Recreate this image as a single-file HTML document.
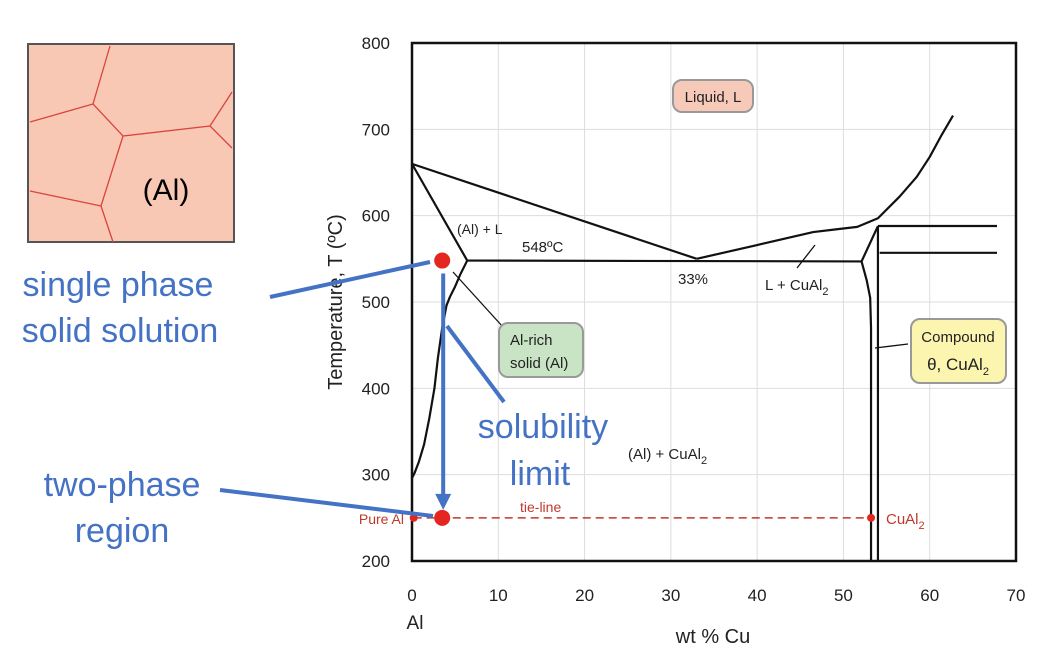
<!DOCTYPE html>
<html><head><meta charset="utf-8"><style>
body{margin:0;background:#fff;}
svg{display:block;font-family:"Liberation Sans",sans-serif;}
</style></head><body>
<svg id="chart" width="1046" height="666" viewBox="0 0 1046 666">
<g>
<rect x="28" y="44" width="206" height="198" fill="#f9c8b5" stroke="#555" stroke-width="2"/>
<g stroke="#d9453b" stroke-width="1.3" fill="none">
<path d="M110,46 L93,104 L123,136 L210,126 L232,92"/>
<path d="M30,122 L93,104"/><path d="M210,126 L232,148"/>
<path d="M123,136 L101,206 L113,242"/><path d="M30,191 L101,206"/>
</g>
<text x="166" y="200" font-size="30" text-anchor="middle">(Al)</text>
</g>
<g id="plot"></g>
<g id="annot">
<text x="118" y="296" font-size="34" fill="#4472c4" text-anchor="middle">single phase</text>
<text x="120" y="342" font-size="34" fill="#4472c4" text-anchor="middle">solid solution</text>
<text x="543" y="438" font-size="34" fill="#4472c4" text-anchor="middle">solubility</text>
<text x="540" y="485" font-size="34" fill="#4472c4" text-anchor="middle">limit</text>
<text x="122" y="496" font-size="34" fill="#4472c4" text-anchor="middle">two-phase</text>
<text x="122" y="542" font-size="34" fill="#4472c4" text-anchor="middle">region</text>
</g>
</svg>
<script>
const xTicks=[0,10,20,30,40,50,60,70];
const yTicks=[200,300,400,500,600,700,800];
const liquidusLeft=[[0,660],[33,550]];
const solidus=[[0,660],[6.4,548]];
const solvusX=[6.4,5.6,5.0,4.4,4.0,3.5,3.0,2.6,2.0,1.4,0.8,0.3,0];
const solvusT=[548,532,518,506,496,470,435,400,365,335,315,302,296];
const eutectic=[[6.4,548],[52.1,547]];
const liquidusRightX=[33,40,46.5,49,51.6,54,56.5,58.5,60,61.3,62.7];
const liquidusRightT=[550,566,581,584,587,597,622,645,668,692,716];
const peritectic=[[54,588],[67.8,588]];
const lowerLine=[[54.2,557],[67.8,557]];
const thetaLeftX=[54,52.1,52.7,53.1,53.2,53.2];
const thetaLeftT=[588,547,525,505,470,200];
const thetaRight=[[54,588],[54,200]];
const tieT=250, pureX=0.2, cuAl2X=53.2, alloyX=3.5, alloyT=548, alloyT2=250;

const X=v=>412+v*(1016-412)/70;
const Y=t=>561-(t-200)*(561-43)/600;
const NS='http://www.w3.org/2000/svg';
const plot=document.getElementById('plot');
function mk(tag,attrs,parent){const e=document.createElementNS(NS,tag);for(const k in attrs)e.setAttribute(k,attrs[k]);(parent||plot).appendChild(e);return e;}
function line(pts,name,w){const e=mk('polyline',{points:pts.map(p=>X(p[0])+','+Y(p[1])).join(' '),fill:'none',stroke:'#111','stroke-width':w||2.2,'stroke-linejoin':'round'});

return e;}
xTicks.forEach(v=>{const g=mk('line',{x1:X(v),x2:X(v),y1:Y(800),y2:Y(200),stroke:'#ddd','stroke-width':1});


const t=mk('text',{x:X(v),y:601,'font-size':17,'text-anchor':'middle',fill:'#222'});t.textContent=v;

});
yTicks.forEach(v=>{const g=mk('line',{x1:X(0),x2:X(70),y1:Y(v),y2:Y(v),stroke:'#ddd','stroke-width':1});


const t=mk('text',{x:390,y:Y(v)+6,'font-size':17,'text-anchor':'end',fill:'#222'});t.textContent=v;

});
const fr=mk('rect',{x:X(0),y:Y(800),width:X(70)-X(0),height:Y(200)-Y(800),fill:'none',stroke:'#111','stroke-width':2.5});


line(liquidusLeft,'liquidus-left');
line(solidus,'solidus');
line(solvusX.map((x,i)=>[x,solvusT[i]]),'solvus');
line(eutectic,'eutectic-line');
line(liquidusRightX.map((x,i)=>[x,liquidusRightT[i]]),'liquidus-right');
line(peritectic,'peritectic-line');
line(lowerLine,'lower-line');
line(thetaLeftX.map((x,i)=>[x,thetaLeftT[i]]),'theta-left-boundary');
line(thetaRight,'theta-right-boundary');
[[797,268,815,245],[875,348,908,344],[453,272,503,327]].forEach(a=>{const l=mk('line',{x1:a[0],y1:a[1],x2:a[2],y2:a[3],stroke:'#111','stroke-width':1.3});

});
const tl=mk('line',{x1:X(pureX),x2:X(cuAl2X),y1:Y(tieT),y2:Y(tieT),stroke:'#c0392b','stroke-width':1.5,'stroke-dasharray':'8,5'});


[[pureX,tieT,4],[cuAl2X,tieT,4],[alloyX,alloyT2,8],[alloyX,alloyT,8]].forEach(p=>{const c=mk('circle',{cx:X(p[0]),cy:Y(p[1]),r:p[2],fill:'#e3261f'});

});
function box(x,y,w,h,fill,name){const r=mk('rect',{x,y,width:w,height:h,rx:9,fill,stroke:'#999','stroke-width':2});

}
box(673,80,80,32,'#f7c9b8','liquid-box');
box(499,323,84,54,'#c9e4c5','al-rich-box');
box(911,319,95,64,'#fbf5b0','compound-box');
function txt(x,y,s,size,name,anchor,fill){const t=mk('text',{x,y,'font-size':size,'text-anchor':anchor||'start',fill:fill||'#222'});t.innerHTML=s;

return t;}
txt(713,102,'Liquid, L',15,'liquid-label','middle');
txt(510,345,'Al-rich',15,'al-rich-label');
txt(510,368,'solid (Al)',15,'al-rich-label-2');
txt(958,342,'Compound',15,'compound-label','middle');
txt(958,370,'θ, CuAl<tspan font-size="11" dy="5">2</tspan>',17,'theta-label','middle');
txt(457,234,'(Al) + L',14,'al-l-region');
txt(522,252,'548ºC',15,'eutectic-temp');
txt(678,284,'33%',15,'eutectic-comp');
txt(765,290,'L + CuAl<tspan font-size="11" dy="5">2</tspan>',15,'l-cual2-region');
txt(628,459,'(Al) + CuAl<tspan font-size="11" dy="5">2</tspan>',15,'al-cual2-region');
txt(520,512,'tie-line',14,'tie-line-label','start','#c0392b');
txt(404,524,'Pure Al',14,'pure-al-label','end','#c0392b');
txt(886,524,'CuAl<tspan font-size="11" dy="5">2</tspan>',15,'cual2-label','start','#c0392b');
txt(415,629,'Al',19,'al-axis-label','middle');
txt(713,643,'wt % Cu',20,'x-axis-title','middle');
const yt=txt(0,0,'Temperature, T  (ºC)',20,'y-axis-title','middle');
yt.setAttribute('transform','translate(342,302) rotate(-90)');
const ann=document.getElementById('annot');
[[270,297,430,262],[220,490,433,516],[447,326,504,402]].forEach(a=>{const l=mk('line',{x1:a[0],y1:a[1],x2:a[2],y2:a[3],stroke:'#4472c4','stroke-width':4},ann);

});
const ar=mk('line',{x1:X(alloyX)+1,y1:Y(alloyT)+13,x2:X(alloyX)+1,y2:Y(alloyT2)-22,stroke:'#4472c4','stroke-width':4},ann);


const ah=mk('polygon',{points:`${X(alloyX)-7},${Y(alloyT2)-24} ${X(alloyX)+9},${Y(alloyT2)-24} ${X(alloyX)+1},${Y(alloyT2)-8}`,fill:'#4472c4'},ann);


</script>
</body></html>
